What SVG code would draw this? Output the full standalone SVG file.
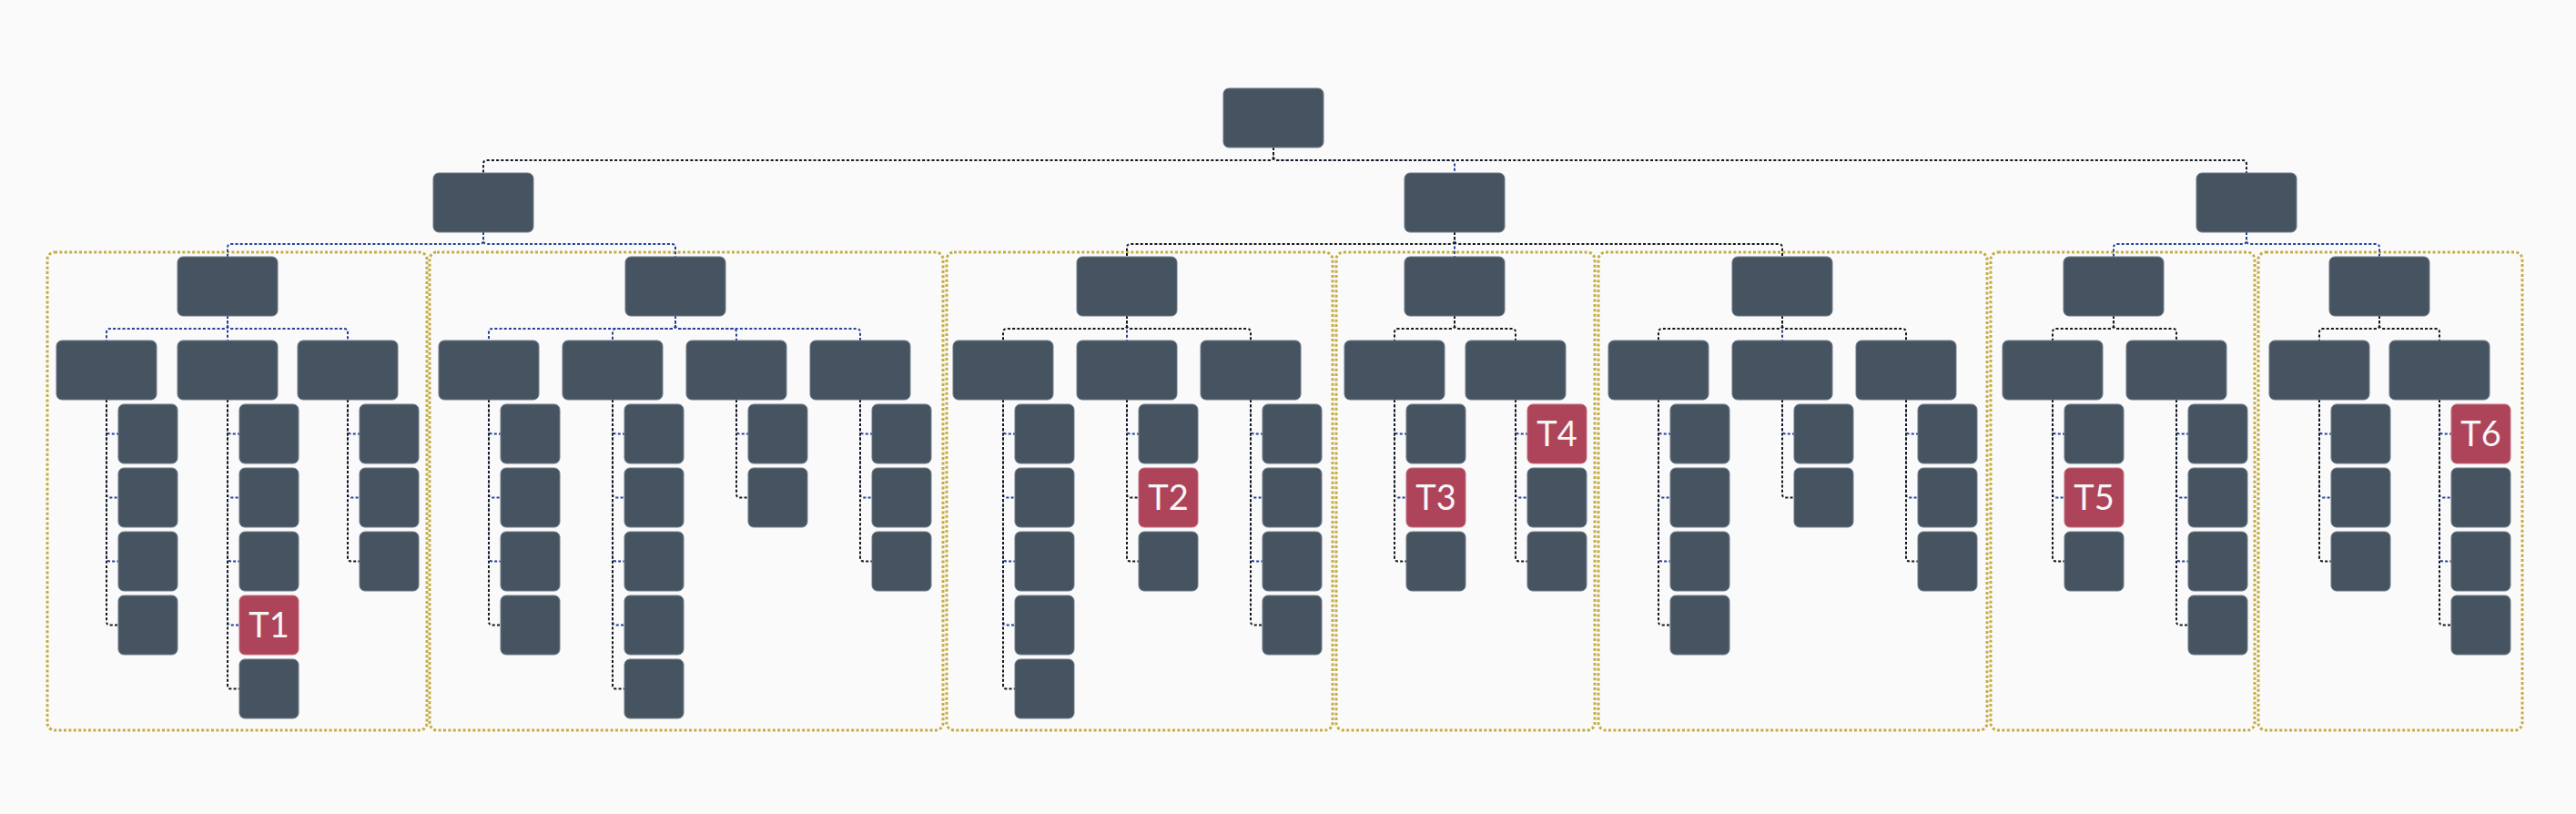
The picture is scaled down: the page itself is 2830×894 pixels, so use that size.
<svg xmlns="http://www.w3.org/2000/svg" width="2830" height="894" viewBox="0 0 2830 894">
<style>
.bg{fill:#fafafa}
.n{fill:#465462;stroke:#6f7b87;stroke-width:1}
.t{fill:#ad4459;stroke:#c07082;stroke-width:1}
.lbl{font-family:Lato,"Liberation Sans",sans-serif;font-size:38px;fill:#f6f6f6;text-anchor:middle}
.e{fill:none;stroke-width:2;stroke-dasharray:3 2.2}
.b{stroke:#24409a}
.k{stroke:#15171f}
.grp{fill:none;stroke:#c5ad45;stroke-width:3;stroke-dasharray:3 2.4}
</style>
<rect class="bg" x="0" y="0" width="2830" height="894"/>

<g id="groups">
<rect class="grp" x="52" y="277" width="417" height="525" rx="8"/>
<rect class="grp" x="472" y="277" width="564" height="525" rx="8"/>
<rect class="grp" x="1040" y="277" width="424" height="525" rx="8"/>
<rect class="grp" x="1468" y="277" width="284" height="525" rx="8"/>
<rect class="grp" x="1756" y="277" width="427" height="525" rx="8"/>
<rect class="grp" x="2187" y="277" width="290" height="525" rx="8"/>
<rect class="grp" x="2481" y="277" width="290" height="525" rx="8"/>
</g>

<g id="connectors">
<path class="e b" d="M1399 162V172Q1399 176 1403 176H1594Q1598 176 1598 180V190"/>
<path class="e k" d="M1399 162V172Q1399 176 1395 176H535Q531 176 531 180V190"/>
<path class="e k" d="M1399 162V172Q1399 176 1403 176H2464Q2468 176 2468 180V190"/>

<path class="e b" d="M531 255V264Q531 268 527 268H254Q250 268 250 272V282"/>
<path class="e b" d="M531 255V264Q531 268 535 268H738Q742 268 742 272V282"/>
<path class="e b" d="M1598 255V282"/>
<path class="e k" d="M1598 255V264Q1598 268 1594 268H1242Q1238 268 1238 272V282"/>
<path class="e k" d="M1598 255V264Q1598 268 1602 268H1954Q1958 268 1958 272V282"/>
<path class="e b" d="M2468 255V264Q2468 268 2464 268H2326Q2322 268 2322 272V282"/>
<path class="e b" d="M2468 255V264Q2468 268 2472 268H2610Q2614 268 2614 272V282"/>

<path class="e b" d="M250 347V357Q250 361 246 361H121Q117 361 117 365V374"/>
<path class="e b" d="M250 347V374"/>
<path class="e b" d="M250 347V357Q250 361 254 361H378Q382 361 382 365V374"/>
<path class="e b" d="M742 347V357Q742 361 738 361H541Q537 361 537 365V374"/>
<path class="e b" d="M742 347V357Q742 361 738 361H677Q673 361 673 365V374"/>
<path class="e b" d="M742 347V357Q742 361 746 361H805Q809 361 809 365V374"/>
<path class="e b" d="M742 347V357Q742 361 746 361H941Q945 361 945 365V374"/>
<path class="e b" d="M1238 347V374"/>
<path class="e k" d="M1238 347V357Q1238 361 1234 361H1106Q1102 361 1102 365V374"/>
<path class="e k" d="M1238 347V357Q1238 361 1242 361H1370Q1374 361 1374 365V374"/>
<path class="e k" d="M1598 347V357Q1598 361 1594 361H1536Q1532 361 1532 365V374"/>
<path class="e k" d="M1598 347V357Q1598 361 1602 361H1661Q1665 361 1665 365V374"/>
<path class="e b" d="M1958 347V374"/>
<path class="e k" d="M1958 347V357Q1958 361 1954 361H1826Q1822 361 1822 365V374"/>
<path class="e k" d="M1958 347V357Q1958 361 1962 361H2090Q2094 361 2094 365V374"/>
<path class="e k" d="M2322 347V357Q2322 361 2318 361H2259Q2255 361 2255 365V374"/>
<path class="e k" d="M2322 347V357Q2322 361 2326 361H2387Q2391 361 2391 365V374"/>
<path class="e k" d="M2614 347V357Q2614 361 2610 361H2552Q2548 361 2548 365V374"/>
<path class="e k" d="M2614 347V357Q2614 361 2618 361H2676Q2680 361 2680 365V374"/>

<path class="e b" d="M117 439V472.5Q117 476.5 121 476.5H130M117 439V542.5Q117 546.5 121 546.5H130M117 439V612.5Q117 616.5 121 616.5H130"/>
<path class="e k" d="M117 439V682.5Q117 686.5 121 686.5H130"/>
<path class="e b" d="M250 439V472.5Q250 476.5 254 476.5H263M250 439V542.5Q250 546.5 254 546.5H263M250 439V612.5Q250 616.5 254 616.5H263M250 439V682.5Q250 686.5 254 686.5H263"/>
<path class="e k" d="M250 439V752.5Q250 756.5 254 756.5H263"/>
<path class="e b" d="M382 439V472.5Q382 476.5 386 476.5H395M382 439V542.5Q382 546.5 386 546.5H395"/>
<path class="e k" d="M382 439V612.5Q382 616.5 386 616.5H395"/>

<path class="e b" d="M537 439V472.5Q537 476.5 541 476.5H550M537 439V542.5Q537 546.5 541 546.5H550M537 439V612.5Q537 616.5 541 616.5H550"/>
<path class="e k" d="M537 439V682.5Q537 686.5 541 686.5H550"/>
<path class="e b" d="M673 439V472.5Q673 476.5 677 476.5H686M673 439V542.5Q673 546.5 677 546.5H686M673 439V612.5Q673 616.5 677 616.5H686M673 439V682.5Q673 686.5 677 686.5H686"/>
<path class="e k" d="M673 439V752.5Q673 756.5 677 756.5H686"/>
<path class="e b" d="M809 439V472.5Q809 476.5 813 476.5H822"/>
<path class="e k" d="M809 439V542.5Q809 546.5 813 546.5H822"/>
<path class="e b" d="M945 439V472.5Q945 476.5 949 476.5H958M945 439V542.5Q945 546.5 949 546.5H958"/>
<path class="e k" d="M945 439V612.5Q945 616.5 949 616.5H958"/>

<path class="e b" d="M1102 439V472.5Q1102 476.5 1106 476.5H1115M1102 439V542.5Q1102 546.5 1106 546.5H1115M1102 439V612.5Q1102 616.5 1106 616.5H1115M1102 439V682.5Q1102 686.5 1106 686.5H1115"/>
<path class="e k" d="M1102 439V752.5Q1102 756.5 1106 756.5H1115"/>
<path class="e b" d="M1238 439V472.5Q1238 476.5 1242 476.5H1251"/>
<path class="e k" d="M1238 439V542.5Q1238 546.5 1242 546.5H1251M1238 439V612.5Q1238 616.5 1242 616.5H1251"/>
<path class="e b" d="M1374 439V472.5Q1374 476.5 1378 476.5H1387M1374 439V542.5Q1374 546.5 1378 546.5H1387M1374 439V612.5Q1374 616.5 1378 616.5H1387"/>
<path class="e k" d="M1374 439V682.5Q1374 686.5 1378 686.5H1387"/>

<path class="e b" d="M1532 439V472.5Q1532 476.5 1536 476.5H1545M1532 439V542.5Q1532 546.5 1536 546.5H1545"/>
<path class="e k" d="M1532 439V612.5Q1532 616.5 1536 616.5H1545"/>
<path class="e b" d="M1665 439V472.5Q1665 476.5 1669 476.5H1678M1665 439V542.5Q1665 546.5 1669 546.5H1678"/>
<path class="e k" d="M1665 439V612.5Q1665 616.5 1669 616.5H1678"/>

<path class="e b" d="M1822 439V472.5Q1822 476.5 1826 476.5H1835M1822 439V542.5Q1822 546.5 1826 546.5H1835M1822 439V612.5Q1822 616.5 1826 616.5H1835"/>
<path class="e k" d="M1822 439V682.5Q1822 686.5 1826 686.5H1835"/>
<path class="e b" d="M1958 439V472.5Q1958 476.5 1962 476.5H1971"/>
<path class="e k" d="M1958 439V542.5Q1958 546.5 1962 546.5H1971"/>
<path class="e b" d="M2094 439V472.5Q2094 476.5 2098 476.5H2107M2094 439V542.5Q2094 546.5 2098 546.5H2107"/>
<path class="e k" d="M2094 439V612.5Q2094 616.5 2098 616.5H2107"/>

<path class="e b" d="M2255 439V472.5Q2255 476.5 2259 476.5H2268M2255 439V542.5Q2255 546.5 2259 546.5H2268"/>
<path class="e k" d="M2255 439V612.5Q2255 616.5 2259 616.5H2268"/>
<path class="e b" d="M2391 439V472.5Q2391 476.5 2395 476.5H2404M2391 439V542.5Q2391 546.5 2395 546.5H2404M2391 439V612.5Q2391 616.5 2395 616.5H2404"/>
<path class="e k" d="M2391 439V682.5Q2391 686.5 2395 686.5H2404"/>

<path class="e b" d="M2548 439V472.5Q2548 476.5 2552 476.5H2561M2548 439V542.5Q2548 546.5 2552 546.5H2561"/>
<path class="e k" d="M2548 439V612.5Q2548 616.5 2552 616.5H2561"/>
<path class="e b" d="M2680 439V472.5Q2680 476.5 2684 476.5H2693M2680 439V542.5Q2680 546.5 2684 546.5H2693M2680 439V612.5Q2680 616.5 2684 616.5H2693"/>
<path class="e k" d="M2680 439V682.5Q2680 686.5 2684 686.5H2693"/>
</g>

<g id="root"><rect class="n" x="1344" y="97" width="110" height="65" rx="6"/></g>
<g id="p1"><rect class="n" x="476" y="190" width="110" height="65" rx="6"/></g>
<g id="p2"><rect class="n" x="1543" y="190" width="110" height="65" rx="6"/></g>
<g id="p3"><rect class="n" x="2413" y="190" width="110" height="65" rx="6"/></g>

<g id="a"><rect class="n" x="195" y="282" width="110" height="65" rx="6"/></g>
<g id="b"><rect class="n" x="687" y="282" width="110" height="65" rx="6"/></g>
<g id="c"><rect class="n" x="1183" y="282" width="110" height="65" rx="6"/></g>
<g id="d"><rect class="n" x="1543" y="282" width="110" height="65" rx="6"/></g>
<g id="e"><rect class="n" x="1903" y="282" width="110" height="65" rx="6"/></g>
<g id="f"><rect class="n" x="2267" y="282" width="110" height="65" rx="6"/></g>
<g id="g"><rect class="n" x="2559" y="282" width="110" height="65" rx="6"/></g>

<g id="a1"><rect class="n" x="62" y="374" width="110" height="65" rx="6"/></g>
<g id="a2"><rect class="n" x="195" y="374" width="110" height="65" rx="6"/></g>
<g id="a3"><rect class="n" x="327" y="374" width="110" height="65" rx="6"/></g>
<g id="b1"><rect class="n" x="482" y="374" width="110" height="65" rx="6"/></g>
<g id="b2"><rect class="n" x="618" y="374" width="110" height="65" rx="6"/></g>
<g id="b3"><rect class="n" x="754" y="374" width="110" height="65" rx="6"/></g>
<g id="b4"><rect class="n" x="890" y="374" width="110" height="65" rx="6"/></g>
<g id="c1"><rect class="n" x="1047" y="374" width="110" height="65" rx="6"/></g>
<g id="c2"><rect class="n" x="1183" y="374" width="110" height="65" rx="6"/></g>
<g id="c3"><rect class="n" x="1319" y="374" width="110" height="65" rx="6"/></g>
<g id="d1"><rect class="n" x="1477" y="374" width="110" height="65" rx="6"/></g>
<g id="d2"><rect class="n" x="1610" y="374" width="110" height="65" rx="6"/></g>
<g id="e1"><rect class="n" x="1767" y="374" width="110" height="65" rx="6"/></g>
<g id="e2"><rect class="n" x="1903" y="374" width="110" height="65" rx="6"/></g>
<g id="e3"><rect class="n" x="2039" y="374" width="110" height="65" rx="6"/></g>
<g id="f1"><rect class="n" x="2200" y="374" width="110" height="65" rx="6"/></g>
<g id="f2"><rect class="n" x="2336" y="374" width="110" height="65" rx="6"/></g>
<g id="g1"><rect class="n" x="2493" y="374" width="110" height="65" rx="6"/></g>
<g id="g2"><rect class="n" x="2625" y="374" width="110" height="65" rx="6"/></g>

<g id="a1-1"><rect class="n" x="130" y="444" width="65" height="65" rx="6"/></g>
<g id="a1-2"><rect class="n" x="130" y="514" width="65" height="65" rx="6"/></g>
<g id="a1-3"><rect class="n" x="130" y="584" width="65" height="65" rx="6"/></g>
<g id="a1-4"><rect class="n" x="130" y="654" width="65" height="65" rx="6"/></g>
<g id="a2-1"><rect class="n" x="263" y="444" width="65" height="65" rx="6"/></g>
<g id="a2-2"><rect class="n" x="263" y="514" width="65" height="65" rx="6"/></g>
<g id="a2-3"><rect class="n" x="263" y="584" width="65" height="65" rx="6"/></g>
<g id="a2-4"><rect class="t" x="263" y="654" width="65" height="65" rx="6"/><text class="lbl" x="295.5" y="700">T1</text></g>
<g id="a2-5"><rect class="n" x="263" y="724" width="65" height="65" rx="6"/></g>
<g id="a3-1"><rect class="n" x="395" y="444" width="65" height="65" rx="6"/></g>
<g id="a3-2"><rect class="n" x="395" y="514" width="65" height="65" rx="6"/></g>
<g id="a3-3"><rect class="n" x="395" y="584" width="65" height="65" rx="6"/></g>

<g id="b1-1"><rect class="n" x="550" y="444" width="65" height="65" rx="6"/></g>
<g id="b1-2"><rect class="n" x="550" y="514" width="65" height="65" rx="6"/></g>
<g id="b1-3"><rect class="n" x="550" y="584" width="65" height="65" rx="6"/></g>
<g id="b1-4"><rect class="n" x="550" y="654" width="65" height="65" rx="6"/></g>
<g id="b2-1"><rect class="n" x="686" y="444" width="65" height="65" rx="6"/></g>
<g id="b2-2"><rect class="n" x="686" y="514" width="65" height="65" rx="6"/></g>
<g id="b2-3"><rect class="n" x="686" y="584" width="65" height="65" rx="6"/></g>
<g id="b2-4"><rect class="n" x="686" y="654" width="65" height="65" rx="6"/></g>
<g id="b2-5"><rect class="n" x="686" y="724" width="65" height="65" rx="6"/></g>
<g id="b3-1"><rect class="n" x="822" y="444" width="65" height="65" rx="6"/></g>
<g id="b3-2"><rect class="n" x="822" y="514" width="65" height="65" rx="6"/></g>
<g id="b4-1"><rect class="n" x="958" y="444" width="65" height="65" rx="6"/></g>
<g id="b4-2"><rect class="n" x="958" y="514" width="65" height="65" rx="6"/></g>
<g id="b4-3"><rect class="n" x="958" y="584" width="65" height="65" rx="6"/></g>

<g id="c1-1"><rect class="n" x="1115" y="444" width="65" height="65" rx="6"/></g>
<g id="c1-2"><rect class="n" x="1115" y="514" width="65" height="65" rx="6"/></g>
<g id="c1-3"><rect class="n" x="1115" y="584" width="65" height="65" rx="6"/></g>
<g id="c1-4"><rect class="n" x="1115" y="654" width="65" height="65" rx="6"/></g>
<g id="c1-5"><rect class="n" x="1115" y="724" width="65" height="65" rx="6"/></g>
<g id="c2-1"><rect class="n" x="1251" y="444" width="65" height="65" rx="6"/></g>
<g id="c2-2"><rect class="t" x="1251" y="514" width="65" height="65" rx="6"/><text class="lbl" x="1283.5" y="560">T2</text></g>
<g id="c2-3"><rect class="n" x="1251" y="584" width="65" height="65" rx="6"/></g>
<g id="c3-1"><rect class="n" x="1387" y="444" width="65" height="65" rx="6"/></g>
<g id="c3-2"><rect class="n" x="1387" y="514" width="65" height="65" rx="6"/></g>
<g id="c3-3"><rect class="n" x="1387" y="584" width="65" height="65" rx="6"/></g>
<g id="c3-4"><rect class="n" x="1387" y="654" width="65" height="65" rx="6"/></g>

<g id="d1-1"><rect class="n" x="1545" y="444" width="65" height="65" rx="6"/></g>
<g id="d1-2"><rect class="t" x="1545" y="514" width="65" height="65" rx="6"/><text class="lbl" x="1577.5" y="560">T3</text></g>
<g id="d1-3"><rect class="n" x="1545" y="584" width="65" height="65" rx="6"/></g>
<g id="d2-1"><rect class="t" x="1678" y="444" width="65" height="65" rx="6"/><text class="lbl" x="1710.5" y="490">T4</text></g>
<g id="d2-2"><rect class="n" x="1678" y="514" width="65" height="65" rx="6"/></g>
<g id="d2-3"><rect class="n" x="1678" y="584" width="65" height="65" rx="6"/></g>

<g id="e1-1"><rect class="n" x="1835" y="444" width="65" height="65" rx="6"/></g>
<g id="e1-2"><rect class="n" x="1835" y="514" width="65" height="65" rx="6"/></g>
<g id="e1-3"><rect class="n" x="1835" y="584" width="65" height="65" rx="6"/></g>
<g id="e1-4"><rect class="n" x="1835" y="654" width="65" height="65" rx="6"/></g>
<g id="e2-1"><rect class="n" x="1971" y="444" width="65" height="65" rx="6"/></g>
<g id="e2-2"><rect class="n" x="1971" y="514" width="65" height="65" rx="6"/></g>
<g id="e3-1"><rect class="n" x="2107" y="444" width="65" height="65" rx="6"/></g>
<g id="e3-2"><rect class="n" x="2107" y="514" width="65" height="65" rx="6"/></g>
<g id="e3-3"><rect class="n" x="2107" y="584" width="65" height="65" rx="6"/></g>

<g id="f1-1"><rect class="n" x="2268" y="444" width="65" height="65" rx="6"/></g>
<g id="f1-2"><rect class="t" x="2268" y="514" width="65" height="65" rx="6"/><text class="lbl" x="2300.5" y="560">T5</text></g>
<g id="f1-3"><rect class="n" x="2268" y="584" width="65" height="65" rx="6"/></g>
<g id="f2-1"><rect class="n" x="2404" y="444" width="65" height="65" rx="6"/></g>
<g id="f2-2"><rect class="n" x="2404" y="514" width="65" height="65" rx="6"/></g>
<g id="f2-3"><rect class="n" x="2404" y="584" width="65" height="65" rx="6"/></g>
<g id="f2-4"><rect class="n" x="2404" y="654" width="65" height="65" rx="6"/></g>

<g id="g1-1"><rect class="n" x="2561" y="444" width="65" height="65" rx="6"/></g>
<g id="g1-2"><rect class="n" x="2561" y="514" width="65" height="65" rx="6"/></g>
<g id="g1-3"><rect class="n" x="2561" y="584" width="65" height="65" rx="6"/></g>
<g id="g2-1"><rect class="t" x="2693" y="444" width="65" height="65" rx="6"/><text class="lbl" x="2725.5" y="490">T6</text></g>
<g id="g2-2"><rect class="n" x="2693" y="514" width="65" height="65" rx="6"/></g>
<g id="g2-3"><rect class="n" x="2693" y="584" width="65" height="65" rx="6"/></g>
<g id="g2-4"><rect class="n" x="2693" y="654" width="65" height="65" rx="6"/></g>
</svg>
